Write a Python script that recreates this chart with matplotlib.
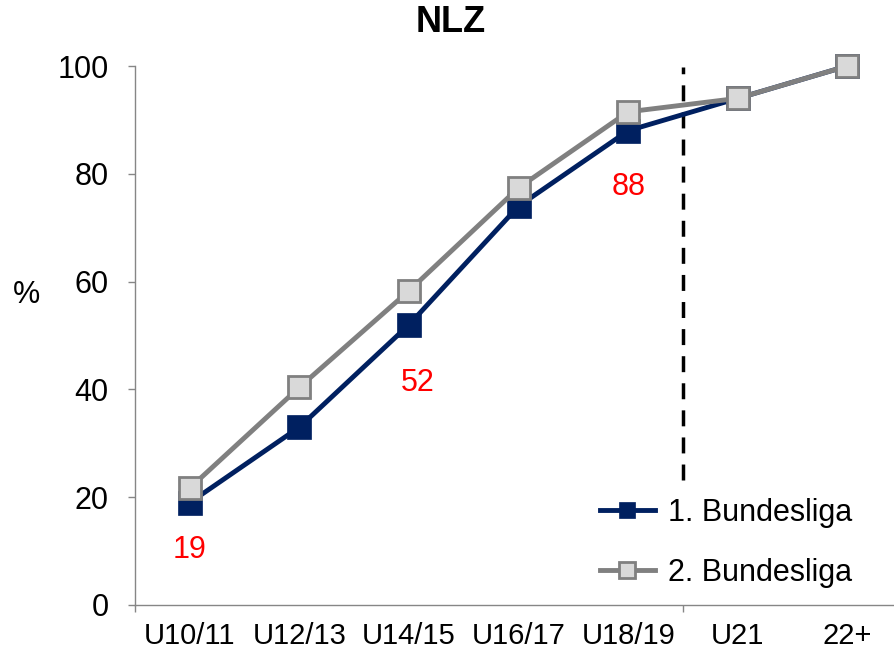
import matplotlib
matplotlib.use("Agg")
import matplotlib.pyplot as plt
from matplotlib.ticker import FixedLocator, NullFormatter

plt.rcParams['font.family'] = ['Liberation Sans', 'DejaVu Sans']

categories = ["U10/11", "U12/13", "U14/15", "U16/17", "U18/19", "U21", "22+"]
bl1 = [19, 33, 52, 74, 88, 94, 100]
bl2 = [21.7, 40.4, 58.3, 77.4, 91.5, 94, 100]
labels_bl1 = {0: "19", 2: "52", 4: "88"}
series_names = ["1. Bundesliga", "2. Bundesliga"]
yticks = [0, 20, 40, 60, 80, 100]
title = "NLZ"

W, H = 895, 655
fig = plt.figure(figsize=(W / 100, H / 100), dpi=100)
ax = fig.add_axes([135 / W, 1 - 605 / H, 760 / W, (605 - 66) / H])

x = list(range(len(categories)))
navy = "#002060"
gray = "#808080"
ax.plot(x, bl1, color=navy, lw=3.5, marker="s", ms=17, mfc=navy, mec=navy,
        mew=0.5, label=series_names[0], clip_on=False, zorder=3)
ax.plot(x, bl2, color=gray, lw=3.5, marker="s", ms=15.5, mfc="#d9d9d9", mec=gray,
        mew=2, label=series_names[1], clip_on=False, zorder=4)

for i, t in labels_bl1.items():
    off = {0: -8.8, 2: -10.8, 4: -10.5}[i]
    xo = {0: 0, 2: 0.08, 4: 0}[i]
    ax.text(i + xo, bl1[i] + off, t, color="red", fontsize=22, ha="center", va="center")

ax.plot([4.5, 4.5], [23.2, 99.8], color="black", lw=2.5, ls=(0, (4.6, 3.2)), zorder=2)

ax.set_xlim(-0.5, -0.5 + 760 / 109.6)
ax.set_ylim(0, 100)
ax.set_yticks(yticks)
ax.set_yticklabels([str(v) for v in yticks], fontsize=22)
ax.tick_params(axis="y", length=5, width=1, color="#868686", pad=14)

ax.xaxis.set_major_locator(FixedLocator([-0.5, 4.5]))
ax.xaxis.set_major_formatter(NullFormatter())
ax.xaxis.set_minor_locator(FixedLocator(x))
ax.set_xticklabels(categories, minor=True, fontsize=21)
ax.tick_params(axis="x", which="major", length=5, width=1, color="#868686")
ax.tick_params(axis="x", which="minor", length=0, pad=12)

for s in ["top", "right"]:
    ax.spines[s].set_visible(False)
for s in ["left", "bottom"]:
    ax.spines[s].set_color("#868686")
    ax.spines[s].set_linewidth(1)

fig.text(27 / W, 1 - 295 / H, "%", fontsize=22, ha="center", va="center")
fig.text(451 / W, 1 - 23 / H, title, fontsize=26, fontweight="bold", ha="center", va="center")

leg = ax.legend(loc="upper left", bbox_to_anchor=(600 / W, 1 - 498 / H),
                bbox_transform=fig.transFigure, frameon=False,
                fontsize=22, handlelength=1.8, labelspacing=0.97, handletextpad=0.43,
                borderaxespad=0, borderpad=0)
for h in leg.legend_handles:
    h.set_markersize(12)

fig.savefig("out.png", dpi=100)
